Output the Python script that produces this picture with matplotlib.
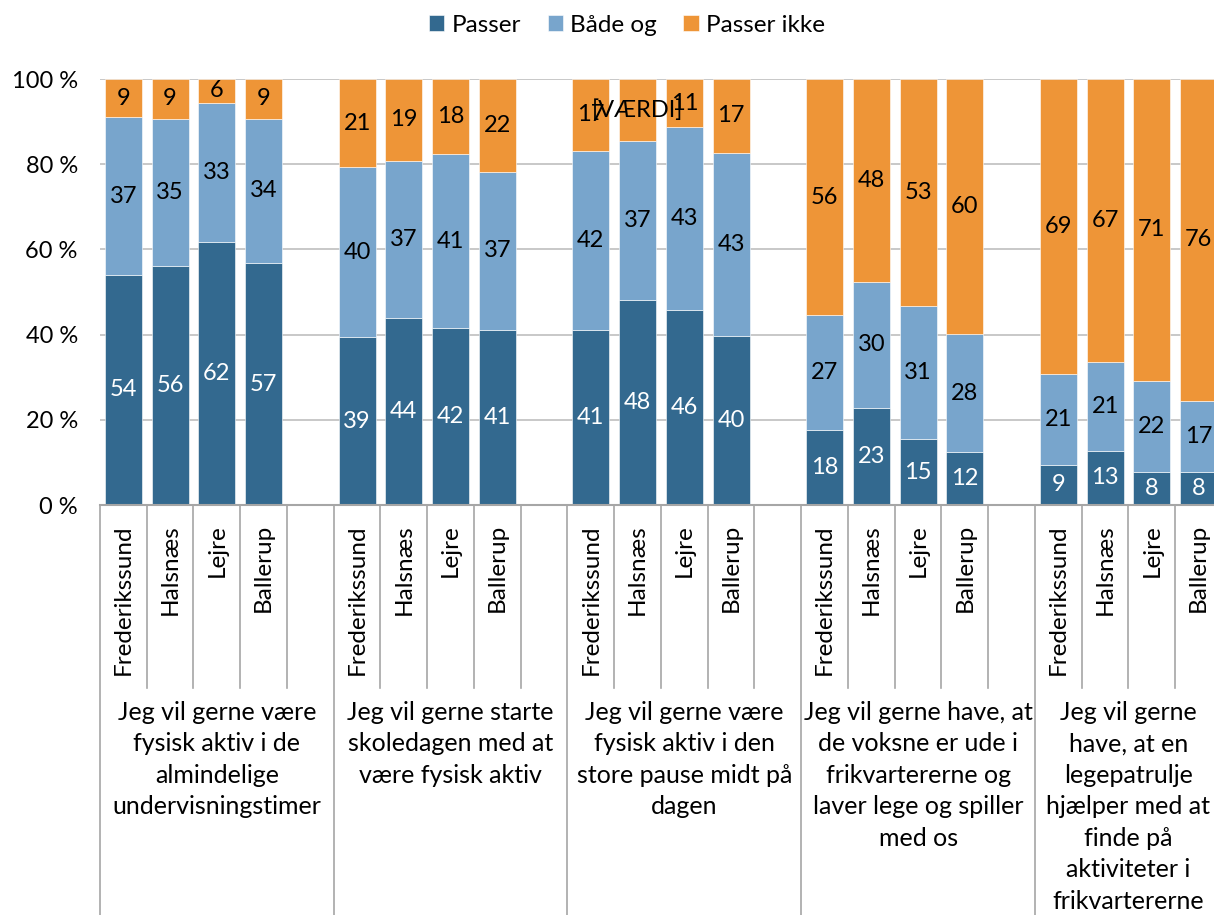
import numpy as np
import matplotlib.pyplot as plt

plt.rcParams['font.family'] = ['Lato', 'DejaVu Sans']

# data (percent)
groups = [
    "Jeg vil gerne være\nfysisk aktiv i de\nalmindelige\nundervisningstimer",
    "Jeg vil gerne starte\nskoledagen med at\nvære fysisk aktiv",
    "Jeg vil gerne være\nfysisk aktiv i den\nstore pause midt på\ndagen",
    "Jeg vil gerne have, at\nde voksne er ude i\nfrikvartererne og\nlaver lege og spiller\nmed os",
    "Jeg vil gerne\nhave, at en\nlegepatrulje\nhjælper med at\nfinde på\naktiviteter i\nfrikvartererne",
]
cities = ["Frederikssund", "Halsnæs", "Lejre", "Ballerup"]

passer = [54.0, 56.1, 61.7, 56.8,
          39.4, 43.9, 41.5, 41.1,
          41.1, 48.1, 45.8, 39.6,
          17.6, 22.8, 15.4, 12.4,
          9.4, 12.7, 7.7, 7.7]
baade_og = [37.0, 34.6, 32.7, 33.9,
            39.9, 36.9, 40.9, 37.1,
            42.0, 37.3, 42.9, 43.1,
            27.0, 29.6, 31.3, 27.7,
            21.4, 20.9, 21.5, 16.8]
passer_ikke = [9.0, 9.3, 5.6, 9.3,
               20.7, 19.2, 17.6, 21.8,
               16.9, 14.6, 11.3, 17.3,
               55.4, 47.6, 53.3, 59.9,
               69.2, 66.4, 70.8, 75.5]
passer_ikke_labels = ["9", "9", "6", "9",
                      "21", "19", "18", "22",
                      "17", "[VÆRDI]", "11", "17",
                      "56", "48", "53", "60",
                      "69", "67", "71", "76"]

c_passer = "#33698F"
c_baade = "#78A5CC"
c_ikke = "#EE9537"
grid_c = "#BFBFBF"
line_c = "#A6A6A6"

fig = plt.figure(figsize=(12.14, 9.15), dpi=100)
ax = fig.add_axes([100 / 1214, (915 - 505) / 915, 1122 / 1214, 426 / 915])

# 5 slots per group (4 bars + gap)
x = np.array([g * 5 + i for g in range(len(groups)) for i in range(len(cities))])
p = np.array(passer)
b = np.array(baade_og)
k = np.array(passer_ikke)
w = 0.79
xmax = 23.5

ax.bar(x, p, w, color=c_passer, edgecolor="white", linewidth=0.4, label="Passer", zorder=3)
ax.bar(x, b, w, bottom=p, color=c_baade, edgecolor="white", linewidth=0.4, label="Både og", zorder=3)
ax.bar(x, k, w, bottom=p + b, color=c_ikke, edgecolor="white", linewidth=0.4, label="Passer ikke", zorder=3)

fs = 17
for xi, pv, bv, kv, kl in zip(x, p, b, k, passer_ikke_labels):
    ax.text(xi, pv / 2, f"{pv:.0f}", ha="center", va="center", color="white", fontsize=fs, zorder=4)
    ax.text(xi, pv + bv / 2, f"{bv:.0f}", ha="center", va="center", color="black", fontsize=fs, zorder=4)
    ax.text(xi, pv + bv + kv / 2, kl, ha="center", va="center", color="black", fontsize=fs, zorder=4)

ax.set_xlim(-0.5, xmax)
ax.set_ylim(0, 100)
ax.set_yticks(range(0, 101, 20))
ax.set_yticklabels([f"{v} %" for v in range(0, 101, 20)], fontsize=fs)
ax.yaxis.grid(True, color=grid_c, linewidth=1.2, zorder=0)
ax.tick_params(axis="y", length=0, pad=16)
ax.set_xticks([])
for s in ["left", "right", "top"]:
    ax.spines[s].set_visible(False)
ax.spines["bottom"].set_color(line_c)
ax.spines["bottom"].set_linewidth(1.5)
ax.spines["bottom"].set_zorder(5)

# multi-level category axis
trans = ax.get_xaxis_transform()
for s in range(25):
    xb = s - 0.5
    y_end = -1.0 if s % 5 == 0 else -0.43
    ax.plot([xb, xb], [0, y_end], color=line_c, linewidth=1.2, transform=trans, clip_on=False)

for xi, ci in zip(x, cities * len(groups)):
    ax.text(xi, -0.045, ci, rotation=90, ha="center", va="top", fontsize=17.5, transform=trans)

for g, name in enumerate(groups):
    xc = (g * 5 - 0.5 + min(g * 5 + 4.5, xmax)) / 2
    ax.text(xc, -0.459, name, ha="center", va="top", fontsize=18,
            linespacing=1.45, transform=trans)

fig.legend(loc="center", bbox_to_anchor=(627 / 1214, 1 - 25 / 915), ncol=3, frameon=False,
           fontsize=17.5, handlelength=0.62, handleheight=0.62, handletextpad=0.3,
           columnspacing=1.1)

fig.savefig("out.png", dpi=100)
